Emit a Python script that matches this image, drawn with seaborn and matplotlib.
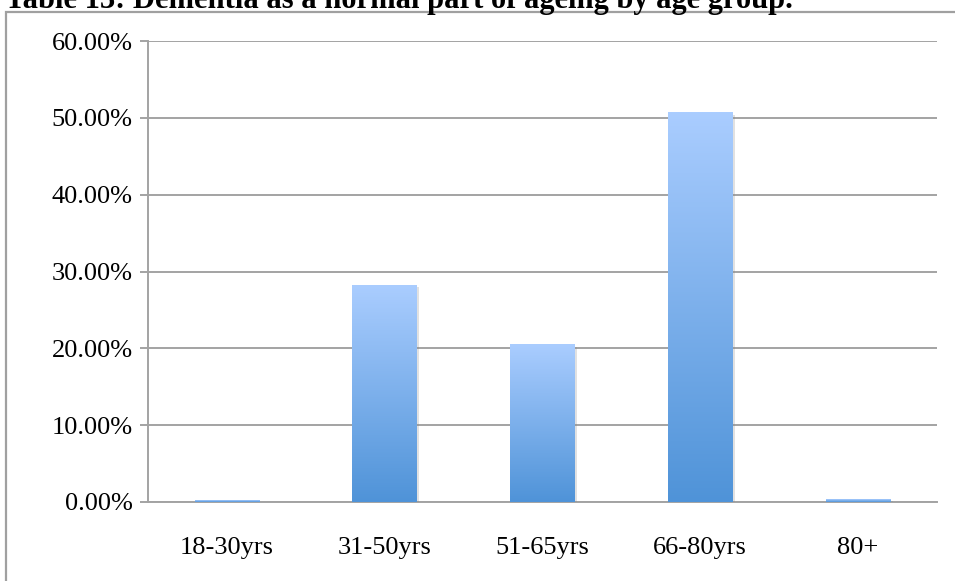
import matplotlib
matplotlib.use("Agg")
import matplotlib.pyplot as plt
import matplotlib.patheffects as pe
from matplotlib.patches import Rectangle
from matplotlib.ticker import FixedLocator, FuncFormatter
import numpy as np
import pandas as pd
import seaborn as sns

categories = ["18-30yrs", "31-50yrs", "51-65yrs", "66-80yrs", "80+"]
values = [0.25, 28.2, 20.5, 50.7, 0.35]
yticks = [0, 10, 20, 30, 40, 50, 60]
title = "Table 13: Dementia as a normal part of ageing by age group."

sns.set_theme(style="white")
plt.rcParams['font.family'] = ['Liberation Serif', 'DejaVu Serif']

df = pd.DataFrame({"age": categories, "pct": values})

W, H = 955, 581
fig = plt.figure(figsize=(W / 100, H / 100), dpi=100)
ax = fig.add_axes([148 / W, 1 - 502 / H, (937 - 148) / W, (502 - 41) / H])

grid_c = "#a3a3a3"
sns.barplot(data=df, x="age", y="pct", ax=ax, color="#7fb0ea", width=0.41,
            saturation=1, zorder=3)

ax.set_xlim(-0.5, len(categories) - 0.5)
ax.set_ylim(0, 60)

# gradient fill per bar
grad = np.linspace(0, 1, 256).reshape(-1, 1)
cmap = matplotlib.colors.LinearSegmentedColormap.from_list("g", ["#4f93d8", "#aacdff"])
for p in ax.patches:
    x, y0, w, h = p.get_x(), p.get_y(), p.get_width(), p.get_height()
    p.set_path_effects([pe.SimplePatchShadow(offset=(1.5, -1.5), shadow_rgbFace="#888888", alpha=0.25),
                        pe.Normal()])
    p.set_edgecolor("none")
    im = ax.imshow(grad, cmap=cmap, origin="lower", aspect="auto",
                   extent=(x, x + w, y0, y0 + h), zorder=4, interpolation="bilinear")
    im.set_clip_path(p)

ax.set_xlim(-0.5, len(categories) - 0.5)
ax.set_ylim(0, 60)

ax.set_yticks(yticks)
ax.yaxis.set_major_formatter(FuncFormatter(lambda v, _: f"{v:.2f}%"))
ax.yaxis.grid(True, color=grid_c, linewidth=1.4)
ax.set_axisbelow(True)

ax.xaxis.set_minor_locator(FixedLocator(np.arange(-0.5, len(categories), 1.0)))
ax.tick_params(axis="x", which="major", length=0, pad=25, labelsize=19, colors="black")
ax.tick_params(axis="x", which="minor", length=8, width=1.4, color=grid_c, direction="out")
ax.tick_params(axis="y", which="major", length=6, width=1.4, color=grid_c, pad=5,
               labelsize=19, labelcolor="black", left=True)
ax.set_xlabel("")
ax.set_ylabel("")

for s in ["top", "right"]:
    ax.spines[s].set_visible(False)
for s in ["left", "bottom"]:
    ax.spines[s].set_visible(True)
    ax.spines[s].set_color(grid_c)
    ax.spines[s].set_linewidth(1.4)

# outer border of chart area
fig.patches.append(Rectangle((6 / W, -0.05), 1.1, 1 - 12 / H + 0.05, transform=fig.transFigure,
                             fill=False, edgecolor="#a0a0a0", linewidth=1.6, zorder=0))

fig.text(5 / W, 1 - 8 / H, title, ha="left", va="baseline", fontsize=22,
         fontweight="bold", color="black")

fig.savefig("out.png", dpi=100)
